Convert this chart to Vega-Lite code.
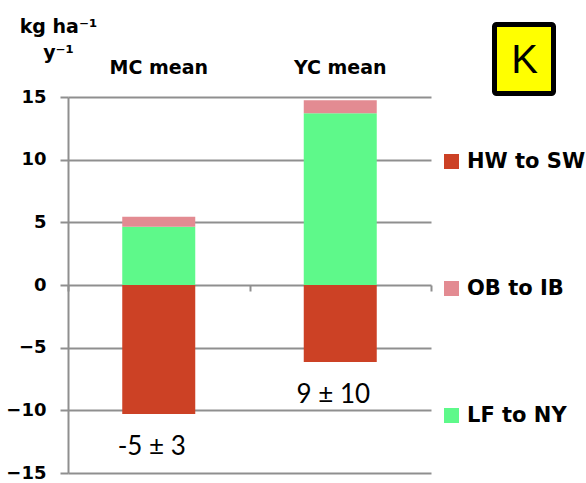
{
  "$schema": "https://vega.github.io/schema/vega-lite/v6.json",
  "width": 363,
  "height": 376,
  "autosize": {"type": "none"},
  "padding": {"left": 68, "top": 97, "right": 155, "bottom": 10},
  "background": "white",
  "data": {
    "values": [
      {"cat": "MC mean", "flow": "HW to SW", "value": -10.3, "note": "-5 ± 3"},
      {"cat": "MC mean", "flow": "LF to NY", "value": 4.65},
      {"cat": "MC mean", "flow": "OB to IB", "value": 0.8},
      {"cat": "YC mean", "flow": "HW to SW", "value": -6.15, "note": "9 ± 10"},
      {"cat": "YC mean", "flow": "LF to NY", "value": 13.7},
      {"cat": "YC mean", "flow": "OB to IB", "value": 1.05}
    ]
  },
  "config": {
    "view": {"stroke": null},
    "axis": {"labelFont": "DejaVu Sans", "titleFont": "DejaVu Sans"},
    "legend": {"strokeWidth": 5}
  },
  "layer": [
    {
      "mark": {"type": "bar", "size": 73},
      "encoding": {
        "x": {
          "field": "cat",
          "type": "nominal",
          "scale": {"paddingInner": 0, "paddingOuter": 0},
          "axis": {
            "orient": "top",
            "title": null,
            "domain": false,
            "ticks": false,
            "tickSize": 0,
            "labelAngle": 0,
            "labelFontSize": 19,
            "labelFontWeight": "bold",
            "labelColor": "black",
            "labelPadding": 20
          }
        },
        "y": {
          "field": "value",
          "type": "quantitative",
          "stack": "zero",
          "scale": {"domain": [-15, 15], "nice": false, "zero": false},
          "axis": {
            "values": [-15, -10, -5, 0, 5, 10, 15],
            "grid": true,
            "gridColor": "#8f8f8f",
            "gridWidth": 2,
            "domainColor": "#8f8f8f",
            "domainWidth": 2,
            "tickColor": "#8f8f8f",
            "tickWidth": 2,
            "tickSize": 8,
            "labelFontSize": 18,
            "labelFontWeight": "bold",
            "labelColor": "black",
            "labelPadding": 14,
            "title": ["kg ha⁻¹", "y⁻¹"],
            "titleAngle": 0,
            "titleAlign": "center",
            "titleBaseline": "top",
            "titleX": -10,
            "titleY": -80,
            "titleFontSize": 19,
            "titleFontWeight": "bold",
            "titleColor": "black",
            "titleLineHeight": 26
          }
        },
        "color": {
          "field": "flow",
          "type": "nominal",
          "scale": {
            "domain": ["HW to SW", "OB to IB", "LF to NY"],
            "range": ["#CC4125", "#E38B92", "#5EF98A"]
          },
          "legend": {
            "orient": "none",
            "legendX": 373,
            "legendY": 54,
            "title": null,
            "symbolType": "square",
            "symbolSize": 225,
            "symbolStrokeWidth": 0,
            "labelFont": "DejaVu Sans",
            "labelFontSize": 21,
            "labelFontWeight": "bold",
            "labelColor": "black",
            "labelOffset": 5,
            "rowPadding": 105
          }
        },
        "order": {"field": "flow", "sort": "ascending"}
      }
    },
    {
      "transform": [{"filter": "isValid(datum.note)"}],
      "mark": {"type": "text", "font": "Lato", "fontSize": 26, "color": "black", "baseline": "middle", "dy": 33, "dx": -7},
      "encoding": {
        "x": {
          "field": "cat",
          "type": "nominal",
          "axis": {
            "orient": "bottom",
            "offset": -188,
            "title": null,
            "labels": false,
            "domain": false,
            "grid": false,
            "ticks": true,
            "tickBand": "extent",
            "tickSize": 6,
            "tickColor": "#8f8f8f",
            "tickWidth": 2
          }
        },
        "y": {"field": "value", "type": "quantitative"},
        "text": {"field": "note"}
      }
    },
    {
      "transform": [{"filter": "datum.cat == 'MC mean' && datum.flow == 'HW to SW'"}],
      "mark": {"type": "point", "opacity": 0},
      "encoding": {
        "x": {"field": "cat", "type": "nominal", "axis": null},
        "y": {"field": "value", "type": "quantitative"},
        "shape": {
          "field": "cat",
          "type": "nominal",
          "legend": {
            "orient": "none",
            "legendX": 426.5,
            "legendY": -72.5,
            "title": "K",
            "titleOrient": "bottom",
            "titleFont": "Liberation Sans",
            "titleFontSize": 40,
            "titleFontWeight": "normal",
            "titleColor": "black",
            "titleAnchor": "middle",
            "titlePadding": 2,
            "labelExpr": "''",
            "labelFontSize": 1,
            "symbolSize": 0,
            "symbolOpacity": 0,
            "symbolStrokeWidth": 0,
            "symbolOffset": 32,
            "labelOffset": 0,
            "padding": 13,
            "fillColor": "#FFFF00",
            "strokeColor": "black",
            "cornerRadius": 2
          }
        }
      }
    }
  ],
  "resolve": {"axis": {"x": "independent"}}
}
